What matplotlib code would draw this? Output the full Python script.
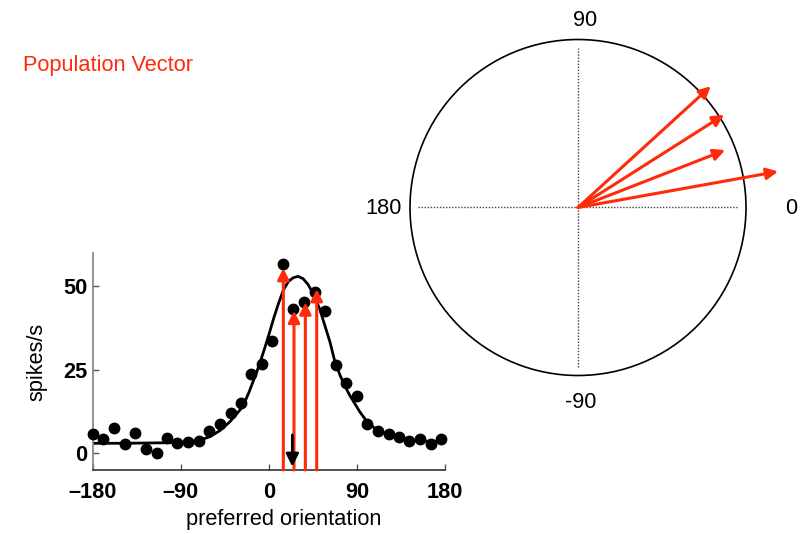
import matplotlib
matplotlib.use("Agg")
import matplotlib.pyplot as plt
from matplotlib.patches import Circle
import numpy as np

plt.rcParams['font.family'] = ['Liberation Sans', 'DejaVu Sans']

# ---- data: tuning curve (preferred orientation vs spikes/s) ----
pref_deg = [-180, -169.1, -158.2, -147.0, -136.4, -125.5, -114.6, -104.4, -93.5, -82.6,
            -71.7, -60.8, -49.9, -39.0, -28.8, -17.9, -7.3, 3.2, 14.1, 25.0,
            35.9, 46.8, 57.7, 68.6, 78.9, 89.7, 100.6, 111.6, 122.5, 133.4,
            143.6, 154.5, 165.4, 176.3]
rates = [5.7, 4.2, 7.5, 2.7, 6.0, 1.3, 0.2, 4.5, 3.0, 3.5,
         3.8, 6.7, 8.9, 12.0, 15.2, 23.8, 26.9, 33.7, 56.8, 43.3,
         45.2, 48.3, 42.6, 26.6, 21.0, 17.3, 8.9, 6.8, 5.7, 4.8,
         3.6, 4.2, 2.7, 4.3]

# fitted curve
fit_x = [-180, -150, -120, -94, -80, -70, -60, -50, -40, -30, -26, -20, -12.5, -10, -5, 0,
         5, 10, 15, 20, 25, 30, 35, 40, 45, 52, 57, 62.5, 67, 72.7, 78, 83, 93, 100,
         110, 127, 150, 180]
fit_y = [3.0, 3.0, 3.1, 3.2, 3.5, 4.0, 5.0, 6.8, 9.4, 12.8, 14.4, 18.5, 24.3, 26.3, 30.8, 35.5,
         40.5, 45.0, 49.0, 51.5, 52.6, 53.0, 52.3, 50.6, 48.0, 43.2, 38.5, 33.3, 28.0, 23.4, 20.0,
         17.2, 12.4, 9.6, 7.0, 5.0, 3.8, 3.4]

# red vectors on the tuning curve
vec_pref = [14.8, 25.7, 37.3, 48.9]
vec_rate = [55.5, 42.7, 45.2, 49.2]
# population-vector estimate (black arrow)
est_pref = 24.0
est_top, est_tip = 5.5, -4.0

# polar plot vectors (angle in degrees, length relative to circle radius)
polar_angles = [10.2, 21.3, 32.4, 42.4]
polar_lengths = [1.21, 0.94, 1.03, 1.07]

RED = '#ff2a0a'
FS = 15.7

W, H = 809, 534
fig = plt.figure(figsize=(W / 100, H / 100), dpi=100)

# ---- left: tuning curve ----
ax = fig.add_axes([92.7 / W, (H - 470) / H, 352.3 / W, 217 / H])
ax.set_xlim(-180, 180)
ax.set_ylim(-5, 60)
ax.plot(fit_x, fit_y, color='black', lw=2.0, zorder=2)
ax.plot(pref_deg, rates, 'o', color='black', ms=7.5, zorder=3, clip_on=False)

for x, r in zip(vec_pref, vec_rate):
    ax.annotate('', xy=(x, r), xytext=(x, -5),
                arrowprops=dict(arrowstyle='-|>', color=RED, lw=2.2,
                                mutation_scale=17, shrinkA=0, shrinkB=0),
                zorder=4, annotation_clip=False)
ax.annotate('', xy=(est_pref, est_tip), xytext=(est_pref, est_top),
            arrowprops=dict(arrowstyle='-|>', color='black', lw=2.0,
                            mutation_scale=19, shrinkA=0, shrinkB=0),
            zorder=5)

for s in ['top', 'right']:
    ax.spines[s].set_visible(False)
ax.spines['left'].set_color('#808080')
ax.spines['bottom'].set_color('#333333')
ax.spines['left'].set_linewidth(1.2)
ax.spines['bottom'].set_linewidth(1.2)

ax.set_xticks([-180, -90, 0, 90, 180])
ax.set_xticklabels(['\u2013180', '\u201390', '0', '90', '180'])
ax.set_yticks([0, 25, 50])
ax.tick_params(axis='both', direction='in', length=4, width=1, colors='#555555',
               labelcolor='black', labelsize=FS)
ax.tick_params(axis='x', pad=9)
ax.tick_params(axis='y', pad=4)
for lab in ax.get_xticklabels() + ax.get_yticklabels():
    lab.set_fontweight('bold')

fig.text(284 / W, 1 - 520 / H, 'preferred orientation', fontsize=FS,
         ha='center', va='center')
fig.text(37 / W, 1 - 362 / H, 'spikes/s', fontsize=FS, rotation=90,
         ha='center', va='center')

fig.text(23 / W, 1 - 65 / H, 'Population Vector', fontsize=FS, color=RED,
         ha='left', va='center')

# ---- right: polar vector diagram ----
cx, cy, R = 578, 207.5, 168
ext = 1.3
pax = fig.add_axes([(cx - R * ext) / W, (H - (cy + R * ext)) / H,
                    2 * R * ext / W, 2 * R * ext / H])
pax.set_xlim(-ext, ext)
pax.set_ylim(-ext, ext)
pax.set_aspect('equal')
pax.axis('off')
pax.add_patch(Circle((0, 0), 1.0, fill=False, ec='black', lw=1.2))
d = 0.95
pax.plot([-d, d], [0, 0], ls=(0, (1, 1.2)), color='#444444', lw=1.0)
pax.plot([0, 0], [-d, d], ls=(0, (1, 1.2)), color='#444444', lw=1.0)

for a, L in zip(polar_angles, polar_lengths):
    t = np.deg2rad(a)
    pax.annotate('', xy=(L * np.cos(t), L * np.sin(t)), xytext=(0, 0),
                 arrowprops=dict(arrowstyle='-|>', color=RED, lw=2.2,
                                 mutation_scale=17, shrinkA=0, shrinkB=0),
                 annotation_clip=False)

for txt, (px, py) in [('90', (585, 21)), ('180', (384, 208)),
                      ('0', (791, 209)), ('-90', (581, 403))]:
    fig.text(px / W, 1 - py / H, txt, fontsize=FS, ha='center', va='center')

fig.savefig('out.png', dpi=100)
